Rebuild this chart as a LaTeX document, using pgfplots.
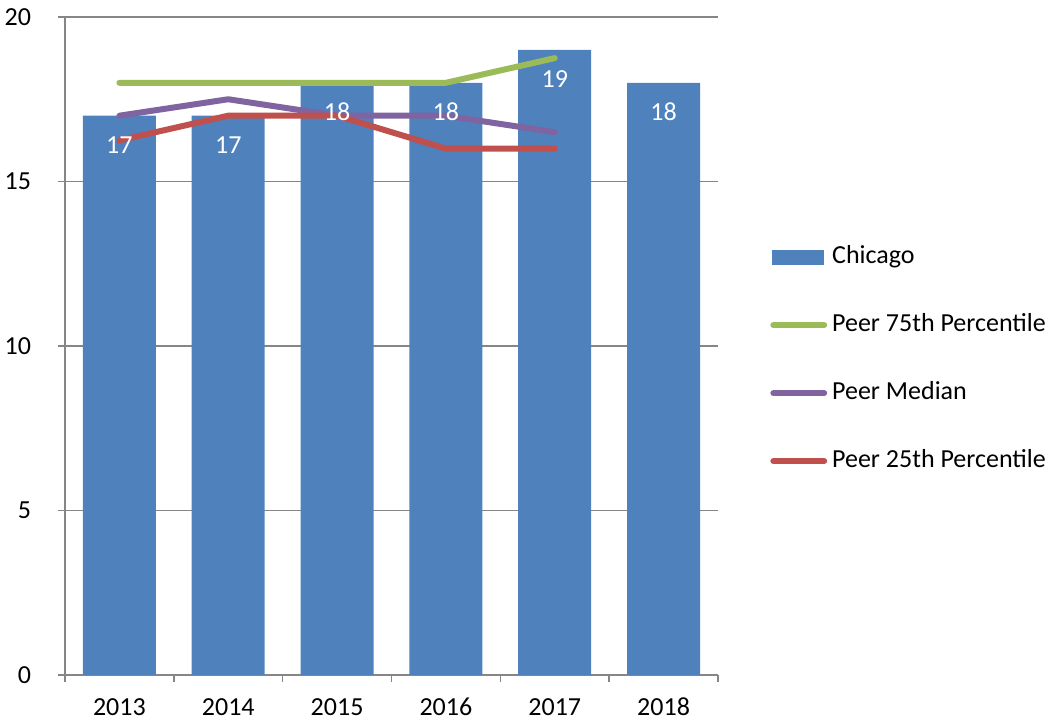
\documentclass[border=0pt]{standalone}
\usepackage{fontspec}
\setmainfont{Carlito}
\usepackage{pgfplots}
\pgfplotsset{compat=1.18}
\definecolor{cblue}{HTML}{4F81BD}
\definecolor{cgreen}{HTML}{9BBB59}
\definecolor{cpurple}{HTML}{8064A2}
\definecolor{cred}{HTML}{C0504D}
\definecolor{cgrid}{HTML}{868686}
\begin{document}
\fontsize{13}{15.6}\selectfont
\begin{tikzpicture}
\begin{axis}[
  scale only axis, width=326.5pt, height=329pt,
  xmin=-0.5, xmax=5.5, ymin=0, ymax=20,
  axis lines*=left,
  axis line style={color=cgrid, line width=0.7pt},
  /pgf/number format/assume math mode=true,
  ytick={0,5,10,15,20},
  ymajorgrids, grid style={color=cgrid, line width=0.7pt},
  tick align=outside, major tick length=3.5pt, minor tick length=3.5pt,
  tick style={color=cgrid, line width=0.7pt},
  xtick={0,...,5}, xticklabels={2013,2014,2015,2016,2017,2018},
  xtick style={draw=none},
  minor xtick={-0.5,0.5,...,5.5},
  minor x tick style={draw=cgrid, line width=0.7pt},
  font=\fontsize{13}{15.6}\selectfont,
  yticklabel style={font=\fontsize{13}{15.6}\selectfont, xshift=-9pt},
  xticklabel style={font=\fontsize{13}{15.6}\selectfont, text height=9pt, text depth=0pt, yshift=-3pt},
  legend cell align=left,
  legend style={at={(rel axis cs:1.0796,0.48)}, anchor=west, draw=none, fill=none,
    inner sep=0pt, row sep=20pt,
    nodes={inner xsep=2.5pt, inner ysep=1pt, text height=9pt, text depth=3pt},
    font=\fontsize{13}{15.6}\selectfont},
]
\addplot[ybar, bar width=36.5pt, fill=cblue, draw=none,
  legend image code/.code={\fill[cblue] (0pt,-3.75pt) rectangle (26pt,3.75pt);}]
  coordinates {(0,17) (1,17) (2,18) (3,18) (4,19) (5,18)};
\addlegendentry{Chicago}
\addplot[color=cgreen, line width=3pt, line cap=round, line join=round,
  legend image code/.code={\draw[cgreen, line width=3pt, line cap=round] (0.6pt,0pt) -- (26pt,0pt);}]
  coordinates {(0,18) (1,18) (2,18) (3,18) (4,18.75)};
\addlegendentry{Peer 75th Percentile}
\addplot[color=cpurple, line width=3pt, line cap=round, line join=round,
  legend image code/.code={\draw[cpurple, line width=3pt, line cap=round] (0.6pt,0pt) -- (26pt,0pt);}]
  coordinates {(0,17) (1,17.5) (2,17) (3,17) (4,16.5)};
\addlegendentry{Peer Median}
\addplot[color=cred, line width=3pt, line cap=round, line join=round,
  legend image code/.code={\draw[cred, line width=3pt, line cap=round] (0.6pt,0pt) -- (26pt,0pt);}]
  coordinates {(0,16.25) (1,17) (2,17) (3,16) (4,16)};
\addlegendentry{Peer 25th Percentile}
\addplot[draw=none, mark=none, forget plot, nodes near coords,
  every node near coord/.append style={text=white, anchor=center, yshift=-14.5pt,
    font=\fontsize{13}{15.6}\selectfont}]
  coordinates {(0,17) (1,17) (2,18) (3,18) (4,19) (5,18)};
\end{axis}
\pgfresetboundingbox
\path[use as bounding box] (-32.5pt,-23pt) rectangle (492pt,337.5pt);
\end{tikzpicture}
\end{document}
